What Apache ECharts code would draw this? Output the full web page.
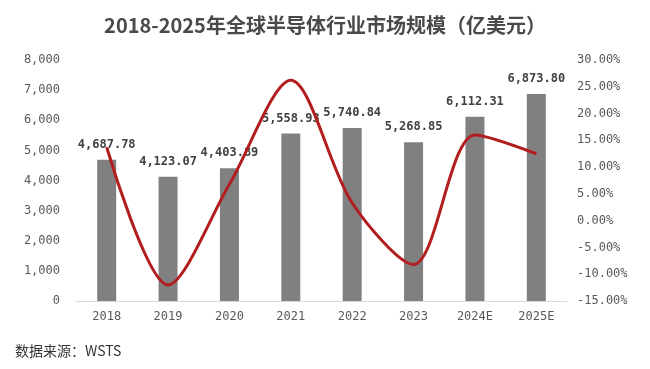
<!DOCTYPE html>
<html>
<head>
<meta charset="utf-8">
<script src="https://cdn.jsdelivr.net/npm/echarts@6/dist/echarts.min.js"></script>
<style>
html,body{margin:0;padding:0;background:#fff;}
#c{width:650px;height:369px;}
</style>
</head>
<body>
<div id="c"></div>
<script>
const categories = ['2018','2019','2020','2021','2022','2023','2024E','2025E'];
const marketSize = [4687.78, 4123.07, 4403.89, 5558.93, 5740.84, 5268.85, 6112.31, 6873.80];
const growthRate = [13.7, -12.0, 6.8, 26.2, 3.3, -8.2, 16.0, 12.5];
const titleText = '2018-2025年全球半导体行业市场规模（亿美元）';
const sourceText = '数据来源：WSTS';

const mono = '"DejaVu Sans Mono", monospace';
function fmtNum(v, d) {
  return Number(v).toLocaleString('en-US', {minimumFractionDigits: d, maximumFractionDigits: d});
}

const chart = echarts.init(document.getElementById('c'), null, {renderer: 'canvas'});
chart.setOption({
  backgroundColor: '#ffffff',
  animation: false,
  title: {
    text: titleText,
    left: 'center',
    top: 10,
    textStyle: {fontFamily: '"Noto Sans CJK SC", sans-serif', fontSize: 20, fontWeight: 'bold', color: '#4a4a4a'}
  },
  graphic: [{
    type: 'text', left: 15, top: 344,
    style: {text: sourceText, font: '14px "Noto Sans CJK SC", sans-serif', fill: '#333333'}
  }],
  grid: {left: 76, right: 83, top: 60, bottom: 68},
  xAxis: {
    type: 'category',
    data: categories,
    axisLine: {lineStyle: {color: '#d9d9d9', width: 1}},
    axisTick: {show: false},
    axisLabel: {color: '#595959', fontFamily: mono, fontSize: 12, margin: 10}
  },
  yAxis: [{
    type: 'value', min: 0, max: 8000, interval: 1000,
    axisLine: {show: false}, axisTick: {show: false},
    splitLine: {show: false},
    axisLabel: {color: '#595959', fontFamily: mono, fontSize: 12, margin: 16,
      formatter: v => fmtNum(v, 0)}
  }, {
    type: 'value', min: -15, max: 30, interval: 5,
    axisLine: {show: false}, axisTick: {show: false},
    splitLine: {show: false},
    axisLabel: {color: '#595959', fontFamily: mono, fontSize: 12, margin: 10,
      formatter: v => v.toFixed(2) + '%'}
  }],
  series: [{
    type: 'bar',
    data: marketSize,
    barWidth: 19,
    itemStyle: {color: '#808080'},
    label: {show: true, position: 'top', distance: 9, color: '#404040',
      fontFamily: mono, fontSize: 12, fontWeight: 'bold',
      formatter: p => fmtNum(p.value, 2)}
  }, {
    type: 'line',
    yAxisIndex: 1,
    data: growthRate,
    smooth: 0.3,
    symbol: 'none',
    lineStyle: {color: '#b21e1e', width: 3},
    z: 5
  }]
});
</script>
</body>
</html>
